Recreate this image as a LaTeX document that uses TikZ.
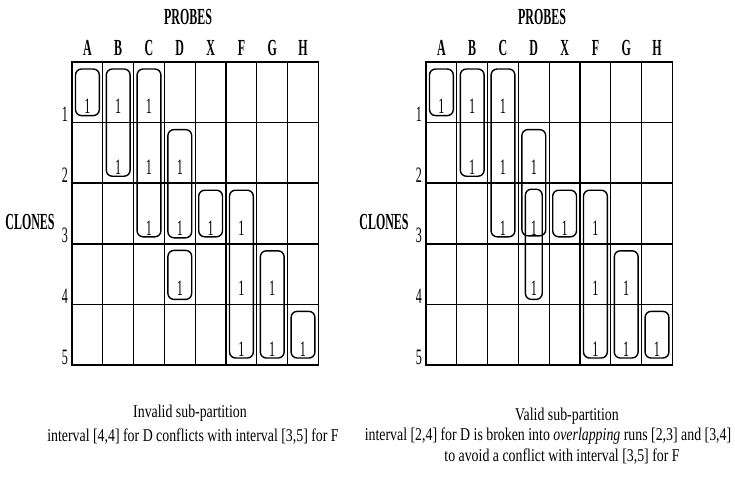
\documentclass[tikz,border=0pt]{standalone}
\usepackage{fontspec}
\newfontfamily\scanfont[FakeStretch=0.52]{Liberation Serif}
\newfontfamily\onefont[FakeStretch=0.55]{Liberation Serif}
\newfontfamily\capfont[FakeStretch=0.77]{Liberation Serif}
\tikzset{
  hdr/.style={font={\scanfont\bfseries\fontsize{23}{23}\selectfont},inner sep=0pt},
  rowlbl/.style={font={\onefont\fontsize{22}{22}\selectfont},inner sep=0pt},
  one/.style={font={\onefont\fontsize{22}{22}\selectfont},inner sep=0pt},
  caption/.style={font={\capfont\fontsize{18}{18}\selectfont},inner sep=0pt},
  cell/.style={line width=1.1pt},
  thickrow/.style={line width=1.7pt},
  frame/.style={line width=1.6pt},
  run/.style={line width=1.4pt,rounded corners=6pt},
}
\begin{document}
\begin{tikzpicture}[x=1pt,y=-1pt]
  \useasboundingbox (0,0) rectangle (735,491);
  % two clone/probe grids, left invalid, right valid
  \foreach \g/\dx in {L/0,R/354}{
    \begin{scope}[xshift=\dx pt]
      \node[hdr] (\g-probes) at (188,17) {PROBES};
      \node[hdr] (\g-clones) at (30,222) {CLONES};
      \foreach \l [count=\i from 0] in {A,B,C,D,X,F,G,H}
        \node[hdr] (\g-col\l) at (72+\i*30.8+15.4,48) {\l};
      \foreach \r in {1,...,5}
        \node[rowlbl] (\g-row\r) at (65,62+\r*60.6-8) {\r};
      % cell lines
      \foreach \i in {1,...,7}
        \draw[cell] (72+\i*30.8,62) -- (72+\i*30.8,365);
      \foreach \j in {1,4}
        \draw[cell] (72,62+\j*60.6) -- (318.4,62+\j*60.6);
      \foreach \j in {2,3}
        \draw[thickrow] (72,62+\j*60.6) -- (318.4,62+\j*60.6);
      \draw[frame] (72,62) rectangle (318.4,365);
      % runs shared by both grids
      \foreach \c/\a/\b in {0/1/1,1/1/2,2/1/3,4/3/3,5/3/5,6/4/5,7/5/5}
        \draw[run] (72+\c*30.8+3.5,62+\a*60.6-53.6) rectangle (72+\c*30.8+27.3,62+\b*60.6-7);
      % the ones
      \foreach \c/\r in {0/1,1/1,2/1,1/2,2/2,3/2,2/3,3/3,4/3,5/3,3/4,5/4,6/4,5/5,6/5,7/5}
        \node[one] (\g-one\c\r) at (72+\c*30.8+15.4,62+\r*60.6-16) {1};
    \end{scope}
  }
  % runs of D, left: [2,3] and [4,4]
  \draw[run] (167.9,129.6) rectangle (191.7,237.8);
  \draw[run] (167.9,250.4) rectangle (191.7,299.4);
  % runs of D, right: overlapping [2,3] and [3,4]
  \draw[run] (521.9,129.6) rectangle (545.7,235.8);
  \draw[run] (525.4,189.2) rectangle (542.2,299.4);
  % captions
  \node[caption] (lefttitle) at (190,413) {Invalid sub-partition};
  \node[caption] (leftnote) at (193,437) {interval [4,4] for D conflicts with interval [3,5] for F};
  \node[caption] (righttitle) at (567,416) {Valid sub-partition};
  \node[caption] (rightnote) at (548,436) {interval [2,4] for D is broken into \emph{overlapping} runs [2,3] and [3,4]};
  \node[caption] (rightnote2) at (562,457) {to avoid a conflict with interval [3,5] for F};
\end{tikzpicture}
\end{document}
